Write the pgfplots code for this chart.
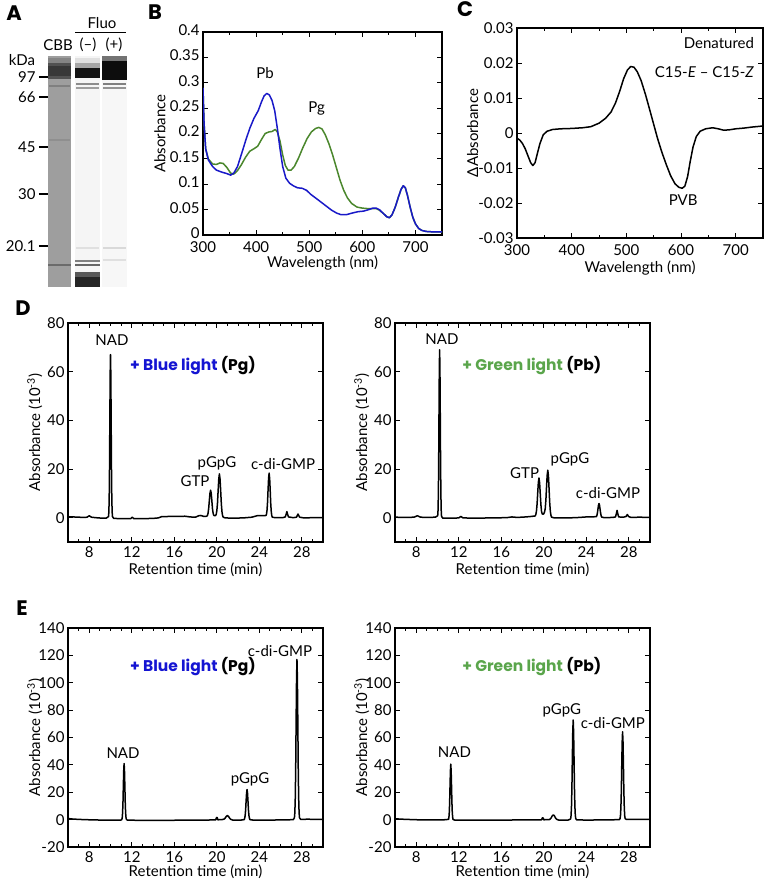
\documentclass[border=0pt]{standalone}
\usepackage{pgfplots}
\pgfplotsset{compat=1.18}
\usepackage{fontspec}
\setmainfont{Lato}
\newfontfamily\pop{Poppins}
\definecolor{pbblue}{RGB}{25,25,200}
\definecolor{pggreen}{RGB}{75,135,45}
\definecolor{txtgreen}{RGB}{90,165,75}
\definecolor{txtblue}{RGB}{20,20,210}
\newcommand{\fs}{\fontsize{15}{17}\selectfont}
\newcommand{\fb}{\pop\fontsize{15.5}{17}\selectfont\bfseries}
\newcommand{\fl}{\pop\fontsize{21}{21}\selectfont\bfseries}
\pgfplotsset{
  myaxis/.style={
    scale only axis, anchor=south west,
    scaled ticks=false,
    axis line style={line width=1.1pt},
    tick align=inside,
    major tick length=5pt, minor tick length=3pt,
    every tick/.style={black, line width=0.9pt},
    tick label style={font=\fs},
    xticklabel style={yshift=-1pt},
    every axis x label/.style={at={(axis description cs:0.5,-0.128)}, anchor=center, font=\fs},
    every axis y label/.style={at={(axis description cs:-0.13,0.5)}, rotate=90, anchor=center, font=\fs},
  },
  chrom/.style={myaxis, width=255pt, height=219pt, xmin=6, xmax=30,
    xtick={8,12,16,20,24,28}, xticklabels={8,12,16,20,24,28},
    minor xtick={6,7,...,30},
    xlabel={Retention time (min)}, ylabel={Absorbance (10\textsuperscript{-3})}},
  chromD/.style={chrom, ymin=-10, ymax=80, ytick={0,20,40,60,80}, yticklabels={0,20,40,60,80}},
  chromE/.style={chrom, ymin=-20, ymax=140, ytick={-20,0,20,40,60,80,100,120,140},
    yticklabels={-20,0,20,40,60,80,100,120,140},
    every axis x label/.style={at={(axis description cs:0.5,-0.115)}, anchor=center, font=\fs}},
  trace/.style={black, line width=1.5pt, line join=round},
}
\begin{document}
\begin{tikzpicture}
\path[use as bounding box] (0pt,0pt) rectangle (765pt,-880pt);
% panel letters
\node[font=\fl] at (14pt,-13pt) {A};
\node[font=\fl] at (155pt,-12pt) {B};
\node[font=\fl] at (465pt,-9pt) {C};
\node[font=\fl] at (23pt,-308pt) {D};
\node[font=\fl] at (22pt,-608pt) {E};

% ---------------- A (gel) ----------------
\begin{axis}[scale only axis, anchor=south west, at={(48pt,-287pt)}, width=79pt, height=231pt,
  xmin=48, xmax=127, ymin=-287, ymax=-56, clip=false,
  axis x line=none, axis y line*=left, y axis line style={draw=none},
  ytick={-77,-97,-147,-194,-246}, yticklabels={97,66,45,30,20.1},
  tick align=outside, major tick length=9pt, ytick style={black, line width=1.1pt},
  tick label style={font=\fs}]
% CBB lane
\addplot[draw=none, fill=black!38] coordinates {(48,-56) (71,-56) (71,-287) (48,-287)};
\addplot[draw=none, fill=black!48] coordinates {(48,-58) (71,-58) (71,-63) (48,-63)};
\addplot[draw=none, fill=black!68] coordinates {(48,-63) (71,-63) (71,-79) (48,-79)};
\addplot[draw=none, fill=black!78] coordinates {(48,-66) (71,-66) (71,-76) (48,-76)};
\addplot[draw=none, fill=black!50] coordinates {(49,-85) (70,-85) (70,-87) (49,-87)};
\addplot[draw=none, fill=black!44] coordinates {(49,-139) (70,-139) (70,-141) (49,-141)};
\addplot[draw=none, fill=black!58] coordinates {(48,-264) (71,-264) (71,-266) (48,-266)};
% Fluo (-) lane
\addplot[draw=none, fill=black!4] coordinates {(75,-56) (100,-56) (100,-287) (75,-287)};
\addplot[draw=none, fill=black!12] coordinates {(75,-58) (100,-58) (100,-63) (75,-63)};
\addplot[draw=none, fill=black!35] coordinates {(75,-63) (100,-63) (100,-68) (75,-68)};
\addplot[draw=none, fill=black!92] coordinates {(75,-68) (100,-68) (100,-78) (75,-78)};
\addplot[draw=none, fill=black!45] coordinates {(76,-83) (99,-83) (99,-85) (76,-85)};
\addplot[draw=none, fill=black!38] coordinates {(76,-87) (99,-87) (99,-89) (76,-89)};
\addplot[draw=none, fill=black!12] coordinates {(76,-247) (99,-247) (99,-249) (76,-249)};
\addplot[draw=none, fill=black!50] coordinates {(75,-260) (100,-260) (100,-262) (75,-262)};
\addplot[draw=none, fill=black!60] coordinates {(75,-264) (100,-264) (100,-266) (75,-266)};
\addplot[draw=none, fill=black!65] coordinates {(75,-272) (100,-272) (100,-287) (75,-287)};
\addplot[draw=none, fill=black!85] coordinates {(75,-277) (100,-277) (100,-287) (75,-287)};
% Fluo (+) lane
\addplot[draw=none, fill=black!3] coordinates {(102,-56) (127,-56) (127,-287) (102,-287)};
\addplot[draw=none, fill=black!55] coordinates {(102,-56) (127,-56) (127,-61) (102,-61)};
\addplot[draw=none, fill=black!95] coordinates {(102,-61) (127,-61) (127,-80) (102,-80)};
\addplot[draw=none, fill=black!50] coordinates {(103,-83) (126,-83) (126,-85) (103,-85)};
\addplot[draw=none, fill=black!42] coordinates {(103,-87) (126,-87) (126,-89) (103,-89)};
\addplot[draw=none, fill=black!15] coordinates {(103,-247) (126,-247) (126,-249) (103,-249)};
\addplot[draw=none, fill=black!12] coordinates {(103,-259) (126,-259) (126,-261) (103,-261)};
\addplot[black, line width=0.8pt] coordinates {(75,-32) (126,-32)};
\node[font=\fs] at (axis cs:102,-23) {Fluo};
\node[font=\fs] at (axis cs:58,-45) {CBB};
\node[font=\fs] at (axis cs:88,-45) {(–)};
\node[font=\fs] at (axis cs:114,-45) {(+)};
\node[font=\fs] at (axis cs:22,-60) {kDa};
\end{axis}

% ---------------- B ----------------
\begin{axis}[myaxis, at={(203pt,-235pt)}, width=239pt, height=203pt,
  xmin=300, xmax=750, ymin=0, ymax=0.4,
  xtick={300,400,500,600,700}, xticklabels={300,400,500,600,700}, minor xtick={350,450,550,650,750},
  xticklabel style={yshift=-2.5pt},
  yticklabel style={yshift=2pt},
  ytick={0,0.05,0.1,0.15,0.2,0.25,0.3,0.35,0.4},
  yticklabels={0,0.05,0.1,0.15,0.2,0.25,0.3,0.35,0.4},
  xlabel={Wavelength (nm)}, ylabel={Absorbance},
  every axis x label/.style={at={(axis description cs:0.5,-0.14)}, anchor=center, font=\fs},
  every axis y label/.style={at={(axis description cs:-0.18,0.5)}, rotate=90, anchor=center, font=\fs}]
\addplot[pggreen, line width=1.5pt, line join=round] coordinates {
(300,0.29)(302,0.22)(305,0.17)(310,0.15)(318,0.14)(325,0.139)(332,0.142)(338,0.141)(345,0.133)(352,0.122)(358,0.12)(365,0.127)(372,0.138)(380,0.153)(388,0.165)(396,0.17)(403,0.175)(410,0.188)(417,0.2)(424,0.203)(430,0.204)(436,0.208)(440,0.203)(445,0.185)(450,0.158)(455,0.137)(460,0.128)(466,0.128)(472,0.135)(480,0.152)(488,0.172)(496,0.19)(504,0.203)(512,0.21)(518,0.212)(524,0.209)(530,0.198)(537,0.18)(544,0.158)(551,0.133)(558,0.108)(565,0.088)(572,0.073)(580,0.062)(590,0.055)(600,0.053)(610,0.052)(620,0.052)(626,0.052)(632,0.049)(640,0.042)(646,0.036)(651,0.034)(656,0.04)(662,0.055)(668,0.075)(673,0.09)(677,0.097)(681,0.093)(685,0.078)(690,0.055)(695,0.035)(700,0.022)(706,0.013)(712,0.009)(720,0.007)(735,0.006)(750,0.006)};
\addplot[pbblue, line width=1.5pt, line join=round] coordinates {
(300,0.29)(302,0.22)(305,0.17)(310,0.148)(318,0.135)(325,0.128)(335,0.124)(345,0.121)(352,0.118)(358,0.122)(365,0.135)(372,0.158)(380,0.185)(388,0.21)(396,0.23)(404,0.245)(410,0.262)(415,0.274)(420,0.279)(425,0.276)(430,0.265)(435,0.245)(440,0.21)(445,0.17)(450,0.135)(456,0.112)(463,0.102)(470,0.097)(478,0.093)(487,0.092)(495,0.088)(503,0.08)(512,0.073)(522,0.065)(532,0.057)(542,0.049)(552,0.043)(560,0.04)(570,0.04)(580,0.043)(592,0.046)(602,0.047)(612,0.05)(620,0.053)(626,0.053)(632,0.05)(640,0.042)(646,0.036)(651,0.034)(656,0.04)(662,0.055)(668,0.075)(673,0.09)(677,0.097)(681,0.093)(685,0.078)(690,0.055)(695,0.035)(700,0.022)(706,0.013)(712,0.009)(720,0.007)(735,0.006)(750,0.006)};
\node[font=\fs] at (axis cs:417,0.319) {Pb};
\node[font=\fs] at (axis cs:514,0.25) {Pg};
\end{axis}

% ---------------- C ----------------
\begin{axis}[myaxis, at={(517pt,-238pt)}, width=246pt, height=210pt,
  xmin=300, xmax=750, ymin=-0.03, ymax=0.03,
  xtick={300,400,500,600,700}, xticklabels={300,400,500,600,700}, minor xtick={350,450,550,650,750},
  xticklabel style={yshift=-2.5pt},
  ytick={-0.03,-0.02,-0.01,0,0.01,0.02,0.03},
  yticklabels={-0.03,-0.02,-0.01,0,0.01,0.02,0.03},
  xlabel={Wavelength (nm)}, ylabel={ΔAbsorbance},
  every axis x label/.style={at={(axis description cs:0.5,-0.145)}, anchor=center, font=\fs},
  every axis y label/.style={at={(axis description cs:-0.18,0.5)}, rotate=90, anchor=center, font=\fs}]
\addplot[black, line width=1.5pt, line join=round] coordinates {
(300,-0.0015)(305,-0.002)(310,-0.003)(315,-0.0045)(320,-0.0065)(325,-0.0085)(329,-0.0093)(333,-0.0085)(337,-0.006)(342,-0.003)(348,-0.0005)(355,0.0005)(365,0.001)(380,0.0012)(400,0.0013)(420,0.0015)(435,0.0018)(450,0.0028)(462,0.0042)(472,0.006)(480,0.0085)(488,0.012)(495,0.0155)(502,0.018)(508,0.019)(514,0.0188)(520,0.0175)(527,0.015)(535,0.011)(543,0.0065)(550,0.0025)(557,-0.0015)(565,-0.0055)(573,-0.009)(581,-0.0122)(589,-0.0145)(596,-0.0155)(602,-0.0158)(607,-0.0152)(612,-0.0125)(617,-0.008)(622,-0.004)(628,-0.001)(635,0.0005)(645,0.0012)(658,0.0015)(668,0.0012)(678,0.0008)(688,0.0009)(700,0.0012)(715,0.0014)(730,0.0017)(750,0.002)};
\node[font=\fs, anchor=east] at (axis cs:740,0.0257) {Denatured};
\node[font=\fs, anchor=east] at (axis cs:740,0.0174) {C15-\textit{E} – C15-\textit{Z}};
\node[font=\fs] at (axis cs:604,-0.0191) {PVB};
\end{axis}

% ---------------- D left ----------------
\begin{axis}[chromD, at={(68pt,-542pt)}]
\addplot[trace] coordinates {
(6,0.4)(6.5,0.3)(7,0.2)(7.5,0.1)(7.8,0.2)(8.0,0.8)(8.2,0.2)(8.6,0)(9.2,-0.2)(9.6,-0.2)(9.82,0.5)(9.85,2.9)(9.88,9.0)(9.91,21.4)(9.94,40.9)(9.97,59.0)(10.0,67)(10.03,59.0)(10.06,40.9)(10.09,21.4)(10.12,9.0)(10.15,2.9)(10.18,0.5)(10.3,-0.3)(11,-0.4)(11.9,-0.4)(12.05,0.2)(12.2,-0.4)(13,-0.4)(14,-0.3)(14.5,-0.1)(14.8,0.4)(15.5,0.5)(16.5,0.5)(17,0.6)(17.5,0.3)(18.0,0.2)(18.3,0.8)(18.5,0.9)(18.8,0.5)(19.06,0.6)(19.12,0.9)(19.18,1.8)(19.24,3.8)(19.30,6.9)(19.36,10.0)(19.42,11.3)(19.48,10.0)(19.54,6.9)(19.60,3.6)(19.66,1.8)(19.72,1.0)(19.78,0.8)(19.84,0.8)(19.89,0.9)(19.95,1.4)(20.01,2.9)(20.07,6.0)(20.13,11.1)(20.19,15.9)(20.25,18.0)(20.31,15.9)(20.37,11.0)(20.43,5.8)(20.49,2.5)(20.55,0.8)(20.61,0.2)(20.8,-0.1)(21.5,-0.2)(22.5,-0.1)(23.3,0.2)(23.8,0.8)(24.3,0.8)(24.63,0.9)(24.68,1.4)(24.73,3.0)(24.78,6.3)(24.83,11.5)(24.88,16.3)(24.93,18.3)(24.98,16.1)(25.03,11.2)(25.08,5.9)(25.13,2.5)(25.18,0.8)(25.23,0.2)(25.5,0)(26.2,0)(26.45,0.3)(26.52,1.2)(26.6,2.5)(26.68,1.2)(26.75,0.3)(27.2,0)(27.5,0.2)(27.57,0.8)(27.65,1.5)(27.73,0.8)(27.8,0.2)(28.2,-0.1)(29,0)(30,0)};
\node[font=\fs] at (axis cs:10.14,73) {NAD};
\node[font=\fb] at (axis cs:17.76,62.7) {{\color{txtblue}+ Blue light} (Pg)};
\node[font=\fs] at (axis cs:17.95,15.1) {GTP};
\node[font=\fs] at (axis cs:20.02,22.5) {pGpG};
\node[font=\fs] at (axis cs:26.24,22) {c-di-GMP};
\end{axis}

% ---------------- D right ----------------
\begin{axis}[chromD, at={(395pt,-542pt)}]
\addplot[trace] coordinates {
(6,0.2)(7,0.1)(7.8,0.2)(8.1,0.8)(8.4,0.2)(9,0.1)(9.8,0.2)(10.02,0.8)(10.05,3.0)(10.08,9.3)(10.11,22.1)(10.14,42.1)(10.17,60.7)(10.2,69)(10.23,60.7)(10.26,42.1)(10.29,22.1)(10.32,9.3)(10.35,3.0)(10.38,0.5)(10.5,-0.2)(11.5,-0.2)(12.0,-0.1)(12.2,0.5)(12.4,-0.1)(13.5,-0.2)(15,-0.1)(16.5,0)(17,0.3)(17.5,0.1)(18.3,0.3)(18.8,0.5)(19.19,0.7)(19.25,1.2)(19.31,2.6)(19.37,5.5)(19.43,10.1)(19.49,14.4)(19.55,16.3)(19.61,14.3)(19.67,9.9)(19.73,5.4)(19.79,2.6)(19.85,1.6)(19.92,1.4)(20.0,1.6)(20.08,2.4)(20.14,3.8)(20.20,7.2)(20.26,12.5)(20.32,17.4)(20.38,19.5)(20.44,17.2)(20.50,11.9)(20.56,6.2)(20.62,2.6)(20.68,0.9)(20.74,0.2)(21,-0.1)(22,-0.1)(23,0)(24,0.3)(24.95,0.4)(25.0,0.9)(25.05,1.9)(25.1,3.5)(25.15,5.1)(25.2,5.8)(25.25,5.1)(25.3,3.5)(25.35,1.9)(25.4,0.8)(25.45,0.25)(25.7,0)(26.5,0.1)(26.75,0.3)(26.82,1.4)(26.9,3)(26.98,1.4)(27.05,0.3)(27.5,0.2)(27.75,0.5)(27.87,1.3)(27.98,0.5)(28.2,0.1)(29,0.2)(30,0.1)};
\node[font=\fs] at (axis cs:10.42,73.3) {NAD};
\node[font=\fb] at (axis cs:18.87,62.7) {{\color{txtgreen}+ Green light} (Pb)};
\node[font=\fs] at (axis cs:18.2,18.4) {GTP};
\node[font=\fs] at (axis cs:22.47,24) {pGpG};
\node[font=\fs] at (axis cs:26.05,10) {c-di-GMP};
\end{axis}

% ---------------- E left ----------------
\begin{axis}[chromE, at={(68pt,-847pt)}]
\addplot[trace] coordinates {
(6,0.8)(6.5,0.4)(7.5,0)(9,-0.3)(10.5,-0.3)(11.0,-0.3)(11.07,0.2)(11.105,1.5)(11.14,5.2)(11.175,12.8)(11.21,24.7)(11.245,35.8)(11.28,41)(11.315,36.1)(11.35,25)(11.385,13.1)(11.42,5.5)(11.455,1.8)(11.49,0.2)(11.6,-0.4)(13,-0.5)(15,-0.5)(17,-0.4)(19,-0.3)(19.9,-0.2)(19.98,1.5)(20.04,1.6)(20.1,-0.1)(20.5,0)(20.7,0.4)(20.8,1.2)(20.9,2.4)(21.0,3)(21.1,2.4)(21.2,1.2)(21.3,0.3)(21.5,-0.3)(22.3,-0.3)(22.58,0)(22.625,0.8)(22.67,2.8)(22.715,6.8)(22.76,13.2)(22.805,19.2)(22.85,22)(22.895,19.4)(22.94,13.4)(22.985,7.0)(23.03,3.0)(23.075,1.0)(23.12,0)(23.4,-0.3)(25,-0.3)(26.5,-0.2)(27.2,0)(27.31,1.3)(27.35,5.1)(27.39,15.8)(27.43,37.4)(27.47,71.4)(27.51,103)(27.55,117)(27.59,103)(27.63,71.4)(27.67,37.4)(27.71,15.8)(27.75,5.1)(27.79,1.3)(27.9,0.2)(28.5,0.3)(30,0.2)};
\node[font=\fs] at (axis cs:11.18,48.7) {NAD};
\node[font=\fb] at (axis cs:17.76,112) {{\color{txtblue}+ Blue light} (Pg)};
\node[font=\fs] at (axis cs:23.13,29.7) {pGpG};
\node[font=\fs] at (axis cs:25.95,123) {c-di-GMP};
\end{axis}

% ---------------- E right ----------------
\begin{axis}[chromE, at={(395pt,-847pt)}]
\addplot[trace] coordinates {
(6,0.6)(7,0.2)(8.5,-0.2)(10.5,-0.2)(11.04,0.2)(11.075,1.6)(11.11,5.4)(11.145,13)(11.18,24.7)(11.215,35.6)(11.25,40.5)(11.285,35.6)(11.32,24.7)(11.355,13)(11.39,5.5)(11.425,1.8)(11.46,0.2)(11.6,-0.3)(13,-0.3)(16,-0.3)(19,-0.2)(19.8,-0.1)(19.86,1.3)(19.94,1.2)(20.0,-0.1)(20.5,0)(20.6,0.4)(20.7,1.3)(20.8,2.8)(20.9,3.5)(21.0,2.8)(21.1,1.3)(21.2,0.3)(21.4,-0.3)(22.3,-0.3)(22.53,0.5)(22.57,3.0)(22.61,9.6)(22.65,23.1)(22.69,44.3)(22.73,64.1)(22.77,72.8)(22.81,64.1)(22.85,44.4)(22.89,23.3)(22.93,9.8)(22.97,3.2)(23.01,0.8)(23.1,-0.2)(24,-0.3)(26,-0.2)(27.1,0)(27.18,0.7)(27.22,2.8)(27.26,8.7)(27.30,20.5)(27.34,39.2)(27.38,56.5)(27.42,64.2)(27.46,56.5)(27.50,39.2)(27.54,20.5)(27.58,8.7)(27.62,2.8)(27.66,0.7)(27.8,0.1)(28.5,0.2)(30,0.2)};
\node[font=\fs] at (axis cs:11.6,49.3) {NAD};
\node[font=\fb] at (axis cs:18.87,112) {{\color{txtgreen}+ Green light} (Pb)};
\node[font=\fs] at (axis cs:21.7,80) {pGpG};
\node[font=\fs] at (axis cs:26.5,70.7) {c-di-GMP};
\end{axis}
\end{tikzpicture}
\end{document}
